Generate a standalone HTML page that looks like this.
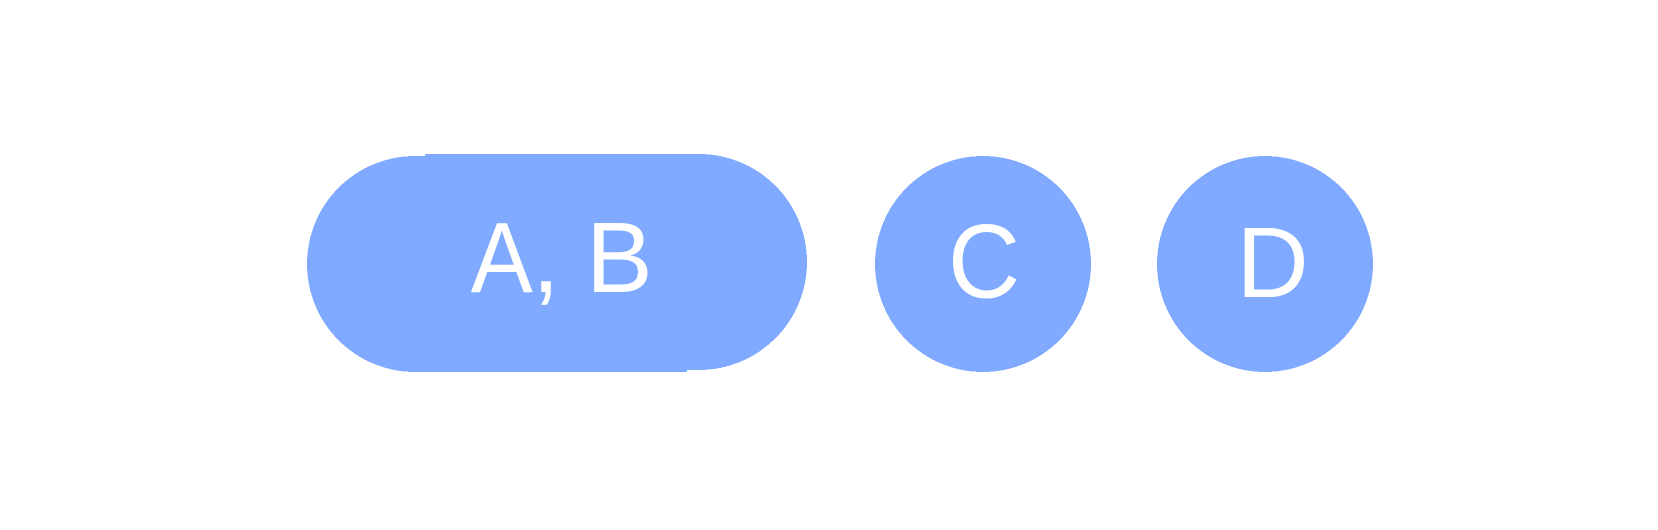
<!DOCTYPE html>
<html lang="en">
<head>
<meta charset="utf-8">
<title>Grouped nodes</title>
<style>
html,body{margin:0;padding:0;background:#fff;width:1658px;height:530px;overflow:hidden}
svg{display:block}
text{font-family:"Liberation Sans",Arial,sans-serif;font-size:100px;fill:#fff}
</style>
</head>
<body>
<svg width="1658" height="530" viewBox="0 0 1658 530" xmlns="http://www.w3.org/2000/svg">
  <g>
    <path shape-rendering="crispEdges" fill="#7faaff" d="M415 156 L425 156 L425 154 L699 154 A108 108 0 0 1 699 370 L687 370 L687 372 L415 372 A108 108 0 0 1 415 156 Z"/>
    <text transform="translate(470.8 292) scale(0.93 1)" x="0" y="0">A</text>
    <text x="532" y="292">,</text>
    <text x="586" y="292">B</text>
  </g>
  <g>
    <circle shape-rendering="crispEdges" fill="#7faaff" cx="983" cy="264" r="108"/>
    <text transform="translate(948 297.5) scale(1 1.045)" x="0" y="0">C</text>
  </g>
  <g>
    <circle shape-rendering="crispEdges" fill="#7faaff" cx="1265" cy="264" r="108"/>
    <text x="1236.5" y="297">D</text>
  </g>
</svg>
</body>
</html>
